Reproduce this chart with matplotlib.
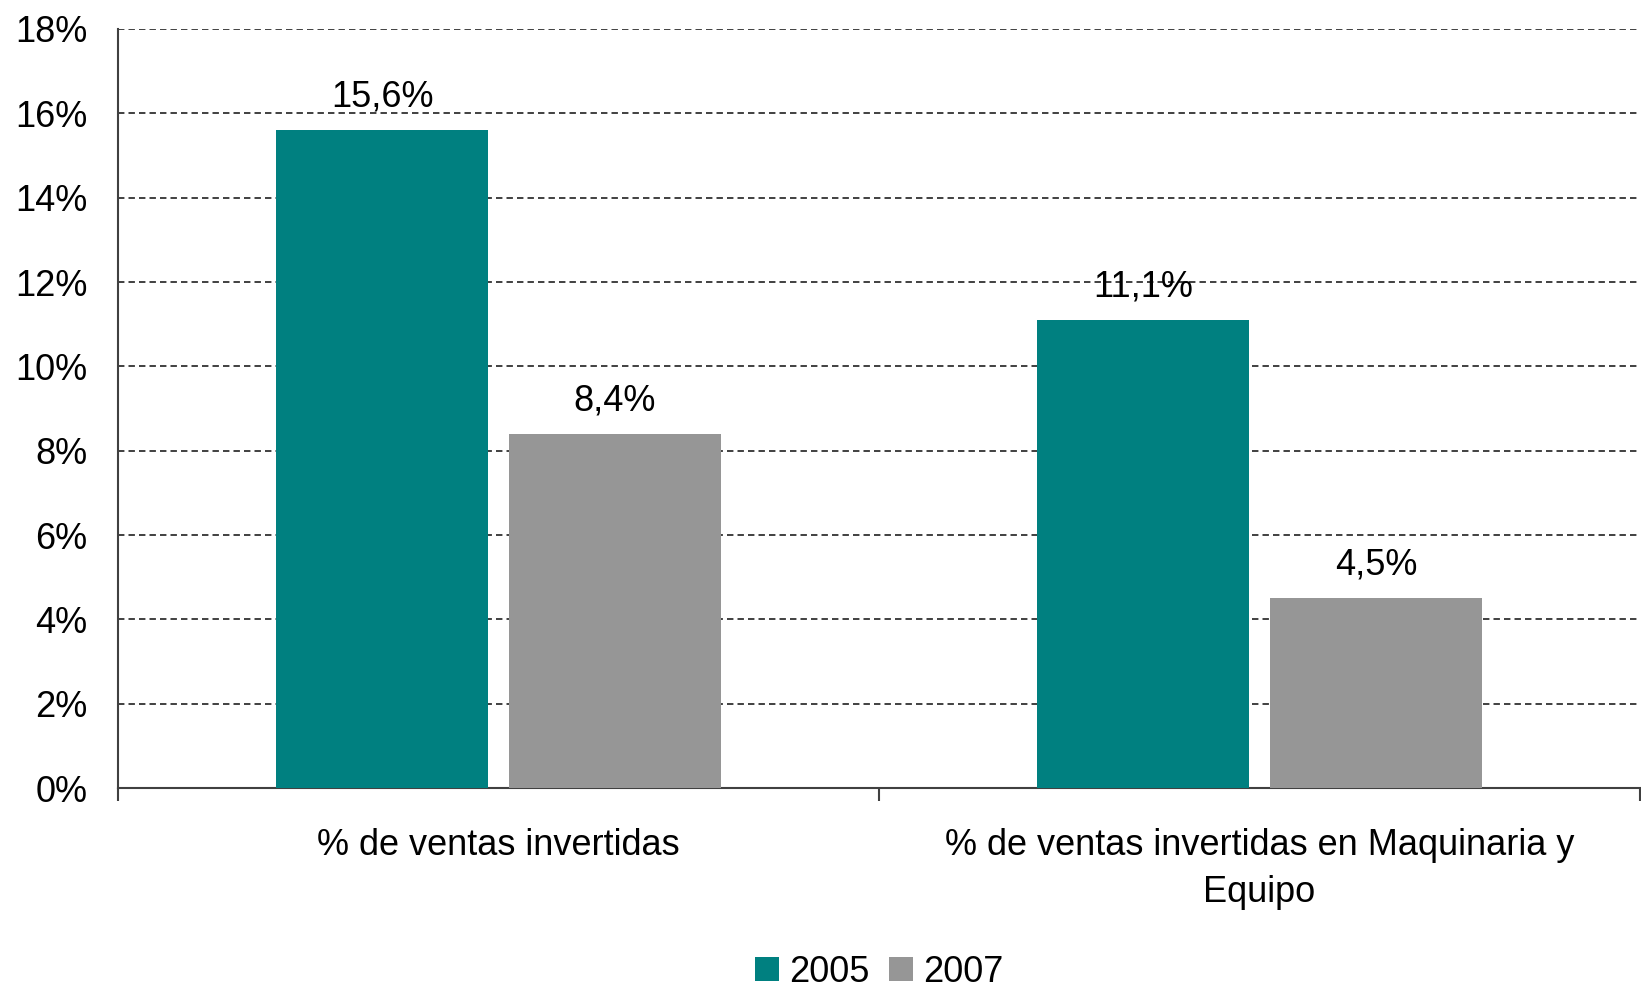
import matplotlib
matplotlib.use("Agg")
import matplotlib.pyplot as plt
import numpy as np

plt.rcParams['font.family'] = ['Liberation Sans', 'DejaVu Sans']

# Data
categories = ["% de ventas invertidas",
              "% de ventas invertidas en Maquinaria y\nEquipo"]
years = ["2005", "2007"]
values_2005 = [15.6, 11.1]
values_2007 = [8.4, 4.5]
colors = ["#008080", "#969696"]

fig = plt.figure(figsize=(16.41, 9.93), dpi=100)
ax = fig.add_axes([0.0719, 0.2064, 0.9275, 0.7644])

x = np.arange(len(categories))
width = 0.279
offset = 0.153
fs = 26

bars_a = ax.bar(x - offset, values_2005, width, color=colors[0], label=years[0], zorder=3)
bars_b = ax.bar(x + offset, values_2007, width, color=colors[1], label=years[1], zorder=3)

for bars, vals in [(bars_a, values_2005), (bars_b, values_2007)]:
    for b, v in zip(bars, vals):
        ax.annotate(f"{v:.1f}%".replace(".", ","),
                    (b.get_x() + b.get_width() / 2, v),
                    xytext=(0, 17), textcoords="offset points",
                    ha="center", va="baseline", fontsize=fs, zorder=4)

# Axes formatting
ax.set_xlim(-0.5, 1.5)
ax.set_ylim(0, 18)
ax.set_yticks(range(0, 19, 2))
ax.set_yticklabels([f"{t}%" for t in range(0, 19, 2)], fontsize=fs)
ax.tick_params(axis="y", length=0, pad=22)

ax.set_xticks(x)
ax.set_xticklabels(categories, fontsize=fs, linespacing=1.45)
ax.tick_params(axis="x", which="major", length=0, pad=29)
ax.set_xticks([-0.5, 0.5, 1.5], minor=True)
ax.tick_params(axis="x", which="minor", length=9, width=1.5, color="#404040")

ax.yaxis.grid(True, color="#404040", linewidth=1.4, linestyle=(0, (3.3, 2.1)), zorder=0)
ax.set_axisbelow(True)

for s in ["top", "right"]:
    ax.spines[s].set_visible(False)
for s in ["left", "bottom"]:
    ax.spines[s].set_color("#404040")
    ax.spines[s].set_linewidth(1.5)

fig.legend(loc="center", bbox_to_anchor=(879 / 1641, 1 - 972 / 993),
           ncol=2, frameon=False, fontsize=fs,
           handlelength=0.66, handleheight=0.66, handletextpad=0.28,
           columnspacing=0.55, borderaxespad=0)

fig.savefig("out.png", dpi=100)
